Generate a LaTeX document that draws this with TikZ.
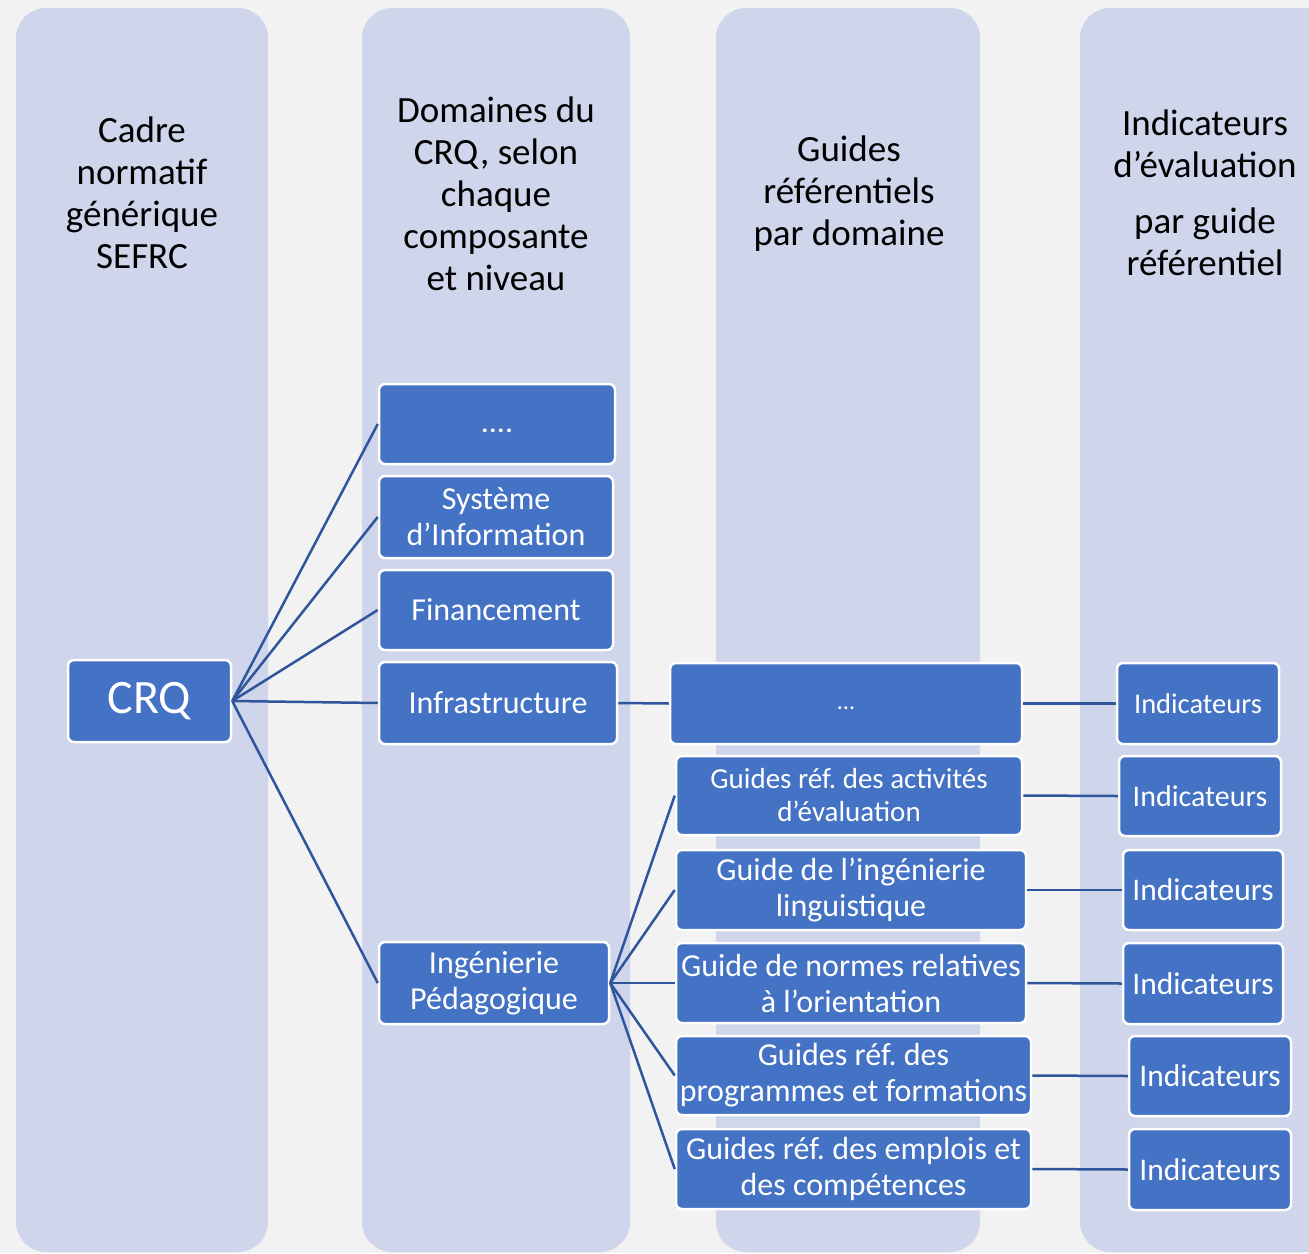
\documentclass[tikz,border=0pt]{standalone}
\usepackage{fontspec}
\setmainfont{Carlito}
\frenchspacing
\definecolor{bgc}{HTML}{F2F2F2}
\definecolor{colc}{HTML}{CFD5EA}
\definecolor{boxc}{HTML}{4472C4}
\definecolor{linec}{HTML}{2F559C}
\tikzset{
  colbg/.style={fill=colc, rounded corners=30},
  hdr/.style={align=center, font=\fontsize{37}{42}\selectfont, text=black},
  bbox/.style={fill=boxc, draw=white, line width=2.5, rounded corners=6, text=white, align=center, inner sep=1,
     font=\fontsize{32}{36}\selectfont},
  conn/.style={draw=linec, line width=2.5},
}
\begin{document}
\begin{tikzpicture}[x=1pt, y=-1pt]
\useasboundingbox (0,0) rectangle (1309,1253);
\clip (0,0) rectangle (1309,1253);
\fill[bgc] (0,0) rectangle (1309,1253);
% columns
\fill[colbg] (16,8) rectangle (268,1252);
\fill[colbg] (362,8) rectangle (630,1252);
\fill[colbg] (716,8) rectangle (980,1252);
\fill[colbg] (1080,8) rectangle (1360,1252);
% headers
\node[hdr] (h1) at (142,193) {Cadre\\normatif\\générique\\SEFRC};
\node[hdr] (h2) at (496,194) {Domaines du\\CRQ, selon\\chaque\\composante\\et niveau};
\node[hdr] (h3) at (849,194) {Guides\\référentiels\\par domaine};
\node[hdr] (h4a) at (1205,144) {Indicateurs\\d’évaluation};
\node[hdr] (h4b) at (1205,242) {par guide\\référentiel};
% CRQ
\node[bbox, minimum width=163, minimum height=82, font=\fontsize{48}{52}\selectfont] (crq) at (149.5,701) {CRQ};
% column 2
\node[bbox, minimum width=236, minimum height=80, text height=16pt, text depth=0pt] (d1) at (497,424) {....};
\node[bbox, minimum width=234, minimum height=82] (d2) at (496,517) {Système\\d’Information};
\node[bbox, minimum width=234, minimum height=80] (d3) at (496,610) {Financement};
\node[bbox, minimum width=238, minimum height=82] (d4) at (498,703) {Infrastructure};
\node[bbox, minimum width=230, minimum height=82] (d5) at (494,983) {Ingénierie\\Pédagogique};
% column 3
\node[bbox, minimum width=352, minimum height=81, font=\fontsize{24}{30}\selectfont, text height=12pt, text depth=0pt] (g0) at (846,703.5) {...};
\node[bbox, minimum width=346, minimum height=79, font=\fontsize{29}{33}\selectfont] (g1) at (849,795.5) {Guides réf. des activités\\d’évaluation};
\node[bbox, minimum width=350, minimum height=80] (g2) at (851,890) {Guide de l’ingénierie\\linguistique};
\node[bbox, minimum width=350, minimum height=80] (g3) at (851,983) {Guide de normes relatives\\à l’orientation};
\node[bbox, minimum width=355, minimum height=79] (g4) at (853.5,1075.5) {Guides réf. des\\programmes et formations};
\node[bbox, minimum width=355, minimum height=80] (g5) at (853.5,1169) {Guides réf. des emplois et\\des compétences};
% column 4
\node[bbox, minimum width=162, minimum height=81, font=\fontsize{28.5}{32}\selectfont] (i0) at (1198,703.5) {Indicateurs};
\node[bbox, minimum width=162, minimum height=80, font=\fontsize{30}{34}\selectfont] (i1) at (1200,796) {Indicateurs};
\node[bbox, minimum width=160, minimum height=80, font=\fontsize{31.5}{34}\selectfont] (i2) at (1203,890) {Indicateurs};
\node[bbox, minimum width=160, minimum height=81, font=\fontsize{31.5}{34}\selectfont] (i3) at (1203,983.5) {Indicateurs};
\node[bbox, minimum width=162, minimum height=80, font=\fontsize{31.5}{34}\selectfont] (i4) at (1210,1076) {Indicateurs};
\node[bbox, minimum width=162, minimum height=81, font=\fontsize{31.5}{34}\selectfont] (i5) at (1210,1169.5) {Indicateurs};
% connectors
\foreach \t in {d1,d2,d3,d4,d5} \draw[conn] (crq.east) -- (\t.west);
\foreach \t in {g1,g2,g3,g4,g5} \draw[conn] (d5.east) -- (\t.west);
\draw[conn] (d4.east) -- (g0.west);
\draw[conn] (g0.east) -- (i0.west);
\draw[conn] (g1.east) -- (i1.west);
\draw[conn] (g2.east) -- (i2.west);
\draw[conn] (g3.east) -- (i3.west);
\draw[conn] (g4.east) -- (i4.west);
\draw[conn] (g5.east) -- (i5.west);
\end{tikzpicture}
\end{document}
